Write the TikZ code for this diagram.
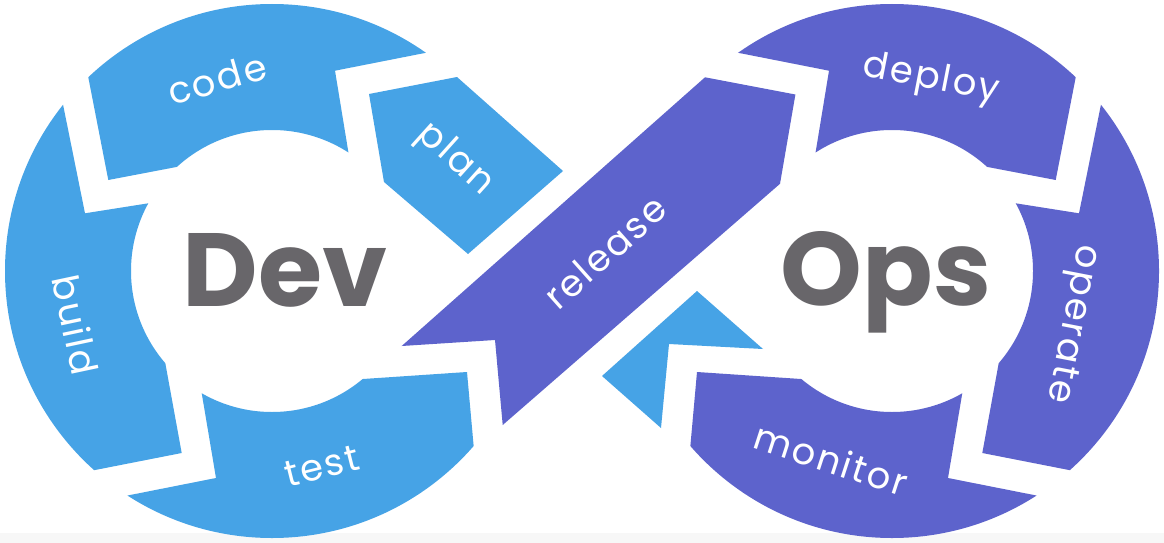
\documentclass[tikz,border=0pt]{standalone}
\usepackage{fontspec}
\setmainfont{Poppins}
\newfontfamily\labelfont{Poppins}[LetterSpace=6]
\definecolor{devblue}{RGB}{70,163,230}
\definecolor{opspurple}{RGB}{93,99,204}
\definecolor{wordgray}{RGB}{104,102,106}

% one piece of a ring: colour, clip polygon
\newcommand\ringpiece[2]{%
  \begin{scope}
    \clip #2;
    \fill[#1, even odd rule] (272,271) circle[radius=267] (272,271) circle[radius=141];
  \end{scope}}
\newcommand\codeclip{(76.3,15.7) -- (108.3,180) -- (213,160) -- (353.6,184) -- (335,70.7) -- (473,43.5) -- (473,-50) -- (76,-50) -- cycle}
\newcommand\buildclip{(50.3,41.6) -- (85,213.3) -- (186.3,197.3) -- (156.7,316) -- (181.7,453) -- (45.7,479.7) -- (-50,479.7) -- (-50,41.6) -- cycle}
\newcommand\testclip{(193.1,342) -- (216,478) -- (73.1,506.3) -- (73.1,600) -- (560,600) -- (478.2,496.8) -- (467,372) -- (300.6,383.2) -- cycle}

\begin{document}
\begin{tikzpicture}[x=1pt,y=-1pt,
  lbl/.style={text=white, font=\labelfont\fontsize{37}{37}\selectfont, inner sep=0pt},
  big/.style={text=wordgray, font=\fontsize{104}{104}\selectfont\bfseries, inner sep=0pt}]
\useasboundingbox (0,0) rectangle (1164,543);
\fill[white] (0,0) rectangle (1164,543);
\fill[black!3] (0,533) rectangle (1164,543);

% Dev ring
\ringpiece{devblue}{\codeclip}
\ringpiece{devblue}{\buildclip}
\ringpiece{devblue}{\testclip}

% Ops ring, mirrored about the middle
\begin{scope}[xshift=1164pt, xscale=-1]
  \ringpiece{opspurple}{\codeclip}
  \ringpiece{opspurple}{\buildclip}
  \ringpiece{opspurple}{\testclip}
\end{scope}

% plan arrow, release ribbon and the returning arrow tail
\fill[devblue] (369,94) -- (457,77) -- (563,171) -- (468,254) -- (384,182) -- cycle;
\fill[opspurple] (705,77.3) -- (795.4,94.5) -- (780,183.8) -- (502.7,425) -- (495,340) -- (401.7,346) -- cycle;
\fill[devblue] (697,291) -- (763,349) -- (669,344) -- (661,428) -- (602,376) -- cycle;

% labels
\node[lbl, rotate=16] (code) at (217,79) {code};
\node[lbl, rotate=-78] (build) at (76,325) {build};
\node[lbl, rotate=14] (test) at (322,466) {test};
\node[lbl, rotate=-42] (plan) at (455,160) {plan};
\node[lbl, rotate=41.7] (release) at (605,252) {release};
\node[lbl, rotate=-11] (deploy) at (931,80) {deploy};
\node[lbl, rotate=-101] (operate) at (1071,324) {operate};
\node[lbl, rotate=-18] (monitor) at (831,459) {monitor};

\node[big] (dev) at (285,270) {Dev};
\node[big] (ops) at (886,282) {Ops};
\end{tikzpicture}
\end{document}
